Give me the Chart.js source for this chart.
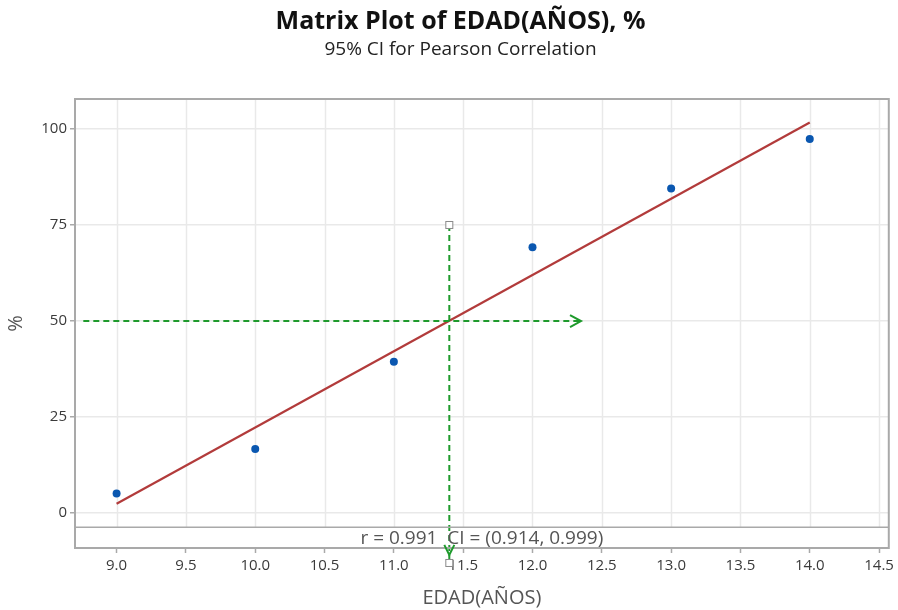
<!DOCTYPE html>
<html>
<head>
<meta charset="utf-8">
<script src="https://cdn.jsdelivr.net/npm/chart.js@4.4.1/dist/chart.umd.min.js"></script>
<style>
    html, body { margin: 0; padding: 0; background: #fff; }
    #wrap { width: 898px; height: 610px; }
</style>
</head>
<body>
<div id="wrap"><canvas id="matrixPlot"></canvas></div>
<script>
// data
var edad = [9, 10, 11, 12, 13, 14];
var pct = [5.1, 16.7, 39.4, 69.2, 84.5, 97.4];
var fitX = [9, 14];
var fitY = [2.4, 101.7];
var xTickValues = [9.0, 9.5, 10.0, 10.5, 11.0, 11.5, 12.0, 12.5, 13.0, 13.5, 14.0, 14.5];
var yTickValues = [0, 25, 50, 75, 100];
var xRange = [8.70, 14.57];
var yRange = [-9.1, 107.8];
var separatorY = -3.7;
var crossX = 11.4;
var crossY = 50;
var hLineX = [8.76, 12.35];
var vLineY = [75, -13];
var arrowDownY = -10.9;
var statsLabel = 'r = 0.991  CI = (0.914, 0.999)';
var yTitle = '%';

var colors = {
    point   : '#0a57b0',
    fit     : '#b23b3b',
    guide   : '#1e9a2c',
    grid    : '#e9e9e9',
    frame   : '#a9a9a9',
    tick    : '#3a3a3a',
    label   : '#555555'
};
var fontFamily = "'Open Sans', 'Noto Sans', sans-serif";

var matrixExtras = {
    id: 'matrixExtras',
    beforeDatasetsDraw: function(chart) {
        var ctx = chart.ctx, a = chart.chartArea;
        var xs = chart.scales.x, ys = chart.scales.y;
        var sepPx = ys.getPixelForValue(separatorY);
        ctx.save();
        ctx.strokeStyle = colors.grid;
        ctx.lineWidth = 1.5;
        xTickValues.forEach(function(v) {
            var px = Math.round(xs.getPixelForValue(v)) + 0.5;
            ctx.beginPath();
            ctx.moveTo(px, a.top);
            ctx.lineTo(px, sepPx);
            ctx.stroke();
        });
        ctx.restore();
    },
    afterDatasetsDraw: function(chart) {
        var ctx = chart.ctx, a = chart.chartArea;
        var xs = chart.scales.x, ys = chart.scales.y;
        var sepPx = ys.getPixelForValue(separatorY);
        ctx.save();
        // frame and separator
        ctx.strokeStyle = colors.frame;
        ctx.lineWidth = 2;
        ctx.strokeRect(a.left, a.top, a.right - a.left, a.bottom - a.top);
        ctx.lineWidth = 1.5;
        ctx.beginPath();
        ctx.moveTo(a.left, sepPx);
        ctx.lineTo(a.right, sepPx);
        ctx.stroke();

        // stats text
        ctx.fillStyle = colors.label;
        ctx.font = '19px ' + fontFamily;
        ctx.textAlign = 'center';
        ctx.textBaseline = 'middle';
        ctx.fillText(statsLabel, (a.left + a.right) / 2, (sepPx + a.bottom) / 2 + 1);

        // y axis title
        ctx.save();
        ctx.translate(16, (a.top + a.bottom) / 2);
        ctx.rotate(-Math.PI / 2);
        ctx.font = '20px ' + fontFamily;
        ctx.fillText(yTitle, 0, 0);
        ctx.restore();

        // arrows
        ctx.strokeStyle = colors.guide;
        ctx.lineWidth = 2;
        var tx = xs.getPixelForValue(hLineX[1]), ty = ys.getPixelForValue(crossY);
        ctx.beginPath();
        ctx.moveTo(tx - 11, ty - 6);
        ctx.lineTo(tx, ty);
        ctx.lineTo(tx - 11, ty + 6);
        ctx.stroke();
        var dx = xs.getPixelForValue(crossX), dy = ys.getPixelForValue(arrowDownY);
        ctx.beginPath();
        ctx.moveTo(dx - 5, dy - 10);
        ctx.lineTo(dx, dy);
        ctx.lineTo(dx + 5, dy - 10);
        ctx.stroke();

        // square end markers
        ctx.fillStyle = '#ffffff';
        ctx.strokeStyle = '#8a8a8a';
        ctx.lineWidth = 1;
        vLineY.forEach(function(v) {
            var px = xs.getPixelForValue(crossX), py = ys.getPixelForValue(v);
            ctx.fillRect(px - 3.5, py - 3.5, 7, 7);
            ctx.strokeRect(px - 3.5, py - 3.5, 7, 7);
        });
        ctx.restore();
    }
};

new Chart(document.getElementById('matrixPlot'), {
    type: 'scatter',
    data: {
        datasets: [{
            type: 'line',
            data: fitX.map(function(x, i) { return { x: x, y: fitY[i] }; }),
            borderColor: colors.fit,
            borderWidth: 2.2,
            pointRadius: 0,
            order: 3
        }, {
            type: 'line',
            data: hLineX.map(function(x) { return { x: x, y: crossY }; }),
            borderColor: colors.guide,
            borderWidth: 2,
            borderDash: [6, 4],
            pointRadius: 0,
            clip: false,
            order: 2
        }, {
            type: 'line',
            data: vLineY.map(function(y) { return { x: crossX, y: y }; }),
            borderColor: colors.guide,
            borderWidth: 2,
            borderDash: [6, 4],
            pointRadius: 0,
            clip: false,
            order: 2
        }, {
            data: edad.map(function(x, i) { return { x: x, y: pct[i] }; }),
            backgroundColor: colors.point,
            borderColor: colors.point,
            pointRadius: 4,
            pointBorderWidth: 0,
            order: 1
        }]
    },
    options: {
        responsive: true,
        maintainAspectRatio: false,
        animation: false,
        layout: { padding: { left: 30, right: 7, top: 0, bottom: 0 } },
        plugins: {
            legend: { display: false },
            tooltip: { enabled: false },
            title: {
                display: true,
                text: 'Matrix Plot of EDAD(AÑOS), %',
                color: '#111111',
                font: { size: 25, weight: 'bold', family: fontFamily, lineHeight: 1.2 },
                padding: { top: 7, bottom: 1 }
            },
            subtitle: {
                display: true,
                text: '95% CI for Pearson Correlation',
                color: '#222222',
                font: { size: 19, family: fontFamily, lineHeight: 1.2 },
                padding: { top: 0, bottom: 38.2 }
            }
        },
        scales: {
            x: {
                type: 'linear',
                min: xRange[0],
                max: xRange[1],
                afterBuildTicks: function(scale) {
                    scale.ticks = xTickValues.map(function(v) { return { value: v }; });
                },
                afterFit: function(scale) { scale.height = 62; },
                border: { display: false },
                grid: {
                    drawOnChartArea: false,
                    drawTicks: true,
                    tickLength: 5,
                    tickColor: colors.frame,
                    tickWidth: 1.5
                },
                ticks: {
                    color: colors.tick,
                    padding: 4,
                    maxRotation: 0,
                    font: { size: 15, family: fontFamily },
                    callback: function(v) { return Number(v).toFixed(1); }
                },
                title: {
                    display: true,
                    text: 'EDAD(AÑOS)',
                    color: colors.label,
                    font: { size: 20, family: fontFamily },
                    padding: { top: 0, bottom: 0 }
                }
            },
            y: {
                type: 'linear',
                min: yRange[0],
                max: yRange[1],
                afterBuildTicks: function(scale) {
                    scale.ticks = yTickValues.map(function(v) { return { value: v }; });
                },
                afterFit: function(scale) { scale.width = 45; },
                border: { display: false },
                grid: {
                    color: colors.grid,
                    lineWidth: 1.5,
                    drawTicks: true,
                    tickLength: 5,
                    tickColor: colors.frame,
                    tickWidth: 1.5
                },
                ticks: {
                    color: colors.tick,
                    padding: 3,
                    font: { size: 15, family: fontFamily }
                }
            }
        }
    },
    plugins: [matrixExtras]
});
</script>
</body>
</html>
